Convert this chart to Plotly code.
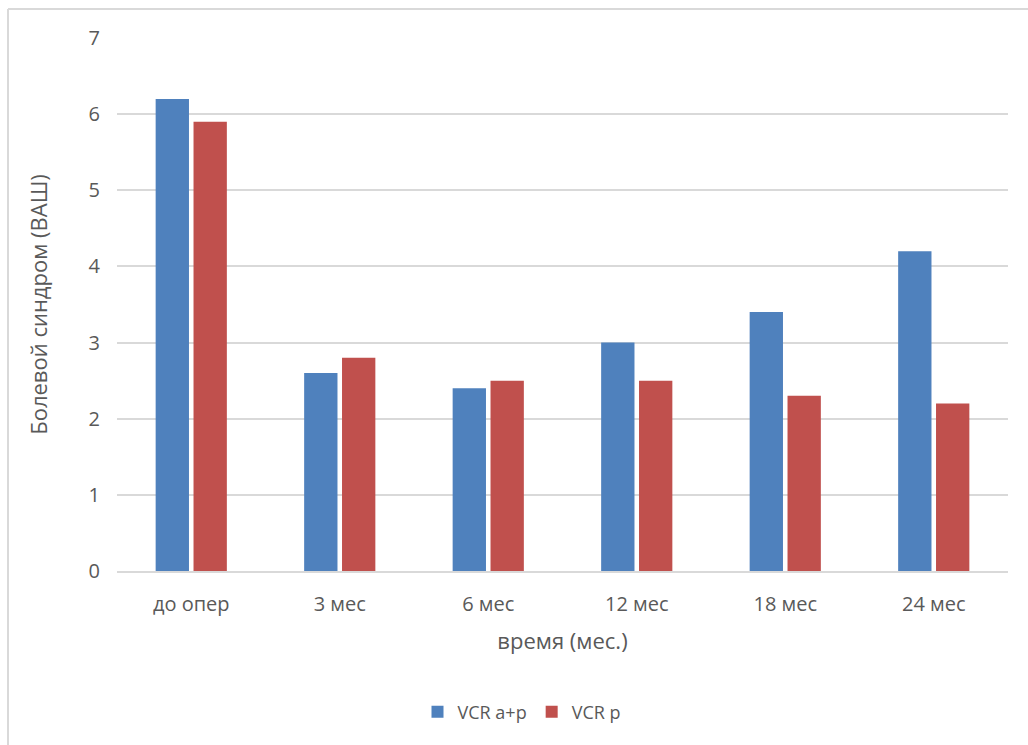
import plotly.graph_objects as go

categories = ["до опер", "3 мес", "6 мес", "12 мес", "18 мес", "24 мес"]
vcr_ap = [6.2, 2.6, 2.4, 3.0, 3.4, 4.2]
vcr_p = [5.9, 2.8, 2.5, 2.5, 2.3, 2.2]

FONT = "Open Sans, Liberation Sans, sans-serif"
TEXT = "#595959"
GRID = "#d9d9d9"

L, R, T, B = 117, 20, 38, 174
W, H = 1028, 745
pw, ph = W - L - R, H - T - B

fig = go.Figure()
fig.add_trace(go.Bar(x=categories, y=vcr_ap, name="VCR a+p",
                     marker=dict(color="#4f81bd", line=dict(width=0))))
fig.add_trace(go.Bar(x=categories, y=vcr_p, name="VCR p",
                     marker=dict(color="#c0504d", line=dict(width=0))))

fig.update_layout(
    width=W, height=H,
    margin=dict(l=L, r=R, t=T, b=B),
    paper_bgcolor="white", plot_bgcolor="white",
    barmode="group", bargap=0.49, bargroupgap=0.12,
    font=dict(family=FONT, color=TEXT, size=18),
    showlegend=True,
    legend=dict(orientation="h", x=(522 - L) / pw, xanchor="center",
                y=(T + ph - 712) / ph, yanchor="middle",
                font=dict(size=18, color=TEXT), itemwidth=30,
                traceorder="normal"),
    xaxis=dict(title=dict(text="время (мес.)", font=dict(size=22, color=TEXT), standoff=18),
               showgrid=False, showline=True, linecolor=GRID, linewidth=2,
               ticks="", ticklabelstandoff=14, tickfont=dict(size=20, color=TEXT)),
    yaxis=dict(title=dict(text="Болевой синдром (ВАШ)", font=dict(size=22, color=TEXT), standoff=34),
               range=[0, 7], dtick=1, showgrid=True, gridcolor=GRID, gridwidth=2,
               zeroline=False, showline=False, ticks="", ticklabelstandoff=16,
               tickfont=dict(size=20, color=TEXT)),
)

# chart frame (top and left edges visible)
fx = (8 - L) / pw
fy = 1 + (T - 9) / ph
fig.add_shape(type="line", xref="paper", yref="paper", x0=fx, x1=2, y0=fy, y1=fy,
              line=dict(color="#d9d9d9", width=2))
fig.add_shape(type="line", xref="paper", yref="paper", x0=fx, x1=fx, y0=fy, y1=-2,
              line=dict(color="#d9d9d9", width=2))

fig.write_html("out.html")
